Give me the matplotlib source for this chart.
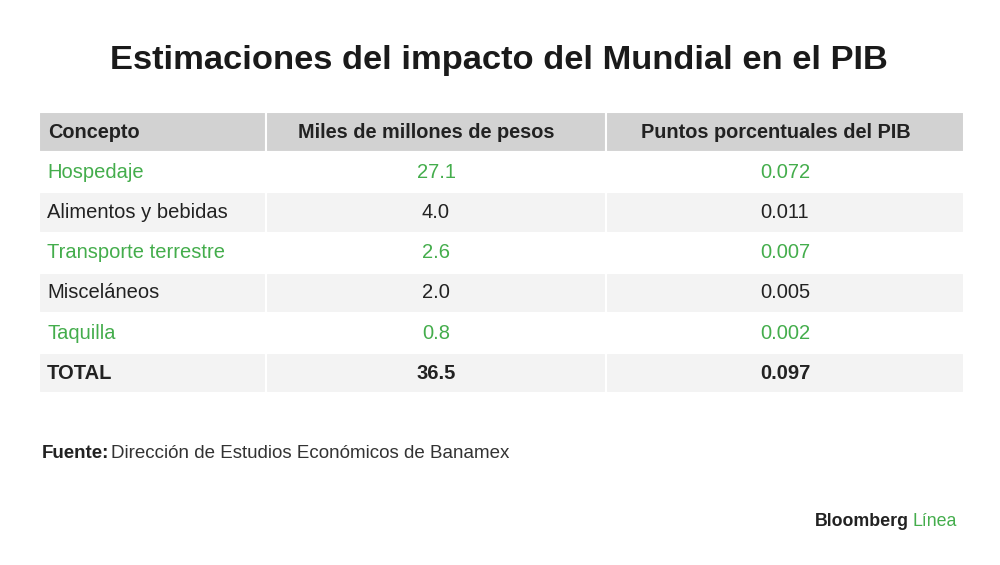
import matplotlib
matplotlib.use('Agg')
import matplotlib.pyplot as plt
from matplotlib.patches import Rectangle

# Table data
title = 'Estimaciones del impacto del Mundial en el PIB'
columns = ['Concepto', 'Miles de millones de pesos', 'Puntos porcentuales del PIB']
conceptos = ['Hospedaje', 'Alimentos y bebidas', 'Transporte terrestre', 'Misceláneos', 'Taquilla', 'TOTAL']
pesos = [27.1, 4.0, 2.6, 2.0, 0.8, 36.5]
puntos = [0.072, 0.011, 0.007, 0.005, 0.002, 0.097]
source_label = 'Fuente:'
source_text = 'Dirección de Estudios Económicos de Banamex'

green = '#44ad4c'
dark = '#222222'
header_bg = '#d2d2d2'
alt_bg = '#f3f3f3'
font = 'Liberation Sans'

fig = plt.figure(figsize=(10, 5.65), dpi=100)
ax = fig.add_axes([0, 0, 1, 1])
ax.set_xlim(0, 1000)
ax.set_ylim(565, 0)
ax.axis('off')

# column edges (pixels)
col_edges = [39, 266, 606, 964]
header_top = 112
row_h = 40.2

ax.text(499, 61, title, ha='center', va='center', fontsize=24.8, fontweight='bold',
        color='#1a1a1a', family=font)

# header (column titles sit a little left of the cell centre)
for i in range(3):
    ax.add_patch(Rectangle((col_edges[i], header_top), col_edges[i+1] - col_edges[i], row_h,
                           facecolor=header_bg, edgecolor='white', linewidth=1.5))
yc = header_top + row_h / 2
hsize = 14.3
ax.text(48, yc, columns[0], ha='left', va='center', fontsize=hsize, fontweight='bold', color=dark, family=font)
ax.text((col_edges[1] + col_edges[2]) / 2 - 10, yc, columns[1], ha='center', va='center', fontsize=hsize,
        fontweight='bold', color=dark, family=font)
ax.text((col_edges[2] + col_edges[3]) / 2 - 9, yc, columns[2], ha='center', va='center', fontsize=hsize,
        fontweight='bold', color=dark, family=font)

# body rows
bsize = 14.5
for r, (c, p, q) in enumerate(zip(conceptos, pesos, puntos)):
    top = header_top + row_h * (r + 1)
    bg = 'white' if r % 2 == 0 else alt_bg
    for i in range(3):
        ax.add_patch(Rectangle((col_edges[i], top), col_edges[i+1] - col_edges[i], row_h,
                               facecolor=bg, edgecolor='white', linewidth=1.5))
    is_total = c == 'TOTAL'
    color = green if r % 2 == 0 and not is_total else dark
    weight = 'bold' if is_total else 'normal'
    y = top + row_h / 2
    ax.text(47, y, c, ha='left', va='center', fontsize=bsize, color=color, fontweight=weight, family=font)
    ax.text((col_edges[1] + col_edges[2]) / 2, y, f'{p:.1f}', ha='center', va='center',
            fontsize=bsize, color=color, fontweight=weight, family=font)
    ax.text((col_edges[2] + col_edges[3]) / 2, y, f'{q:.3f}', ha='center', va='center',
            fontsize=bsize, color=color, fontweight=weight, family=font)

# source line and logo
fig.canvas.draw()
renderer = fig.canvas.get_renderer()
t1 = ax.text(42, 454, source_label, ha='left', va='center', fontsize=13.5, fontweight='bold',
             color=dark, family=font)
bb = t1.get_window_extent(renderer)
ax.text(42 + bb.width + 2, 454, source_text, ha='left', va='center', fontsize=13.5,
        color='#333333', family=font)

t2 = ax.text(957, 522, 'Línea', ha='right', va='center', fontsize=12.8, color=green, family=font)
bb2 = t2.get_window_extent(renderer)
ax.text(957 - bb2.width - 4, 522, 'Bloomberg', ha='right', va='center', fontsize=12.8,
        fontweight='bold', color=dark, family=font)

fig.savefig('out.png', dpi=100, facecolor='white')
